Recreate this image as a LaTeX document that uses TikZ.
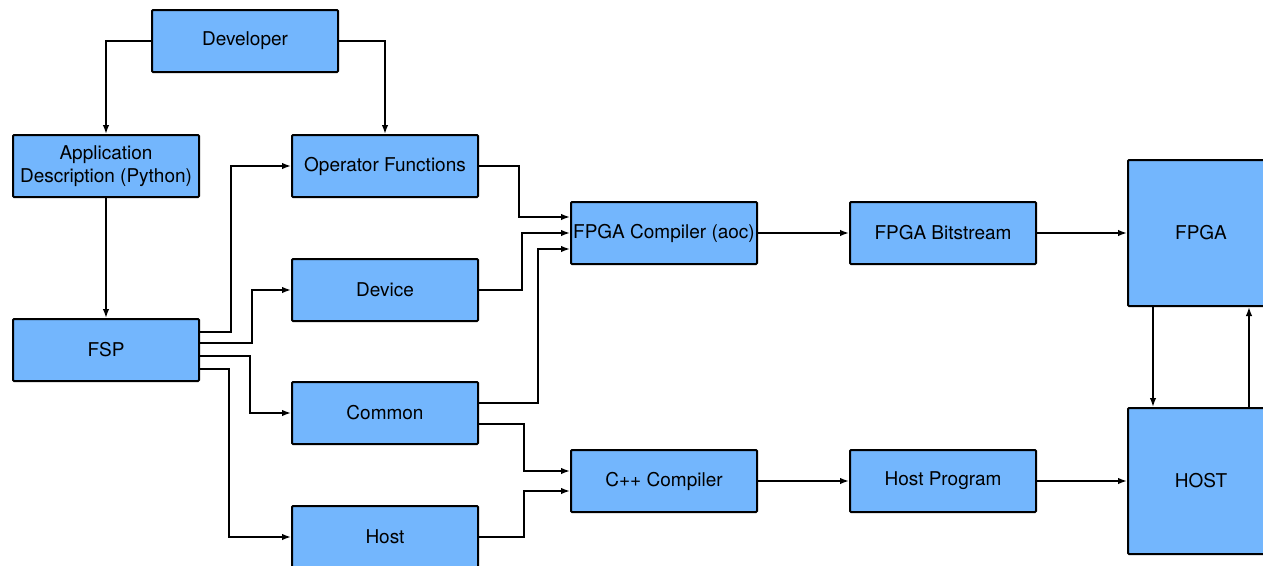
\documentclass[tikz,border=0pt]{standalone}
\usepackage{fontspec}
\setmainfont{TeX Gyre Heros}
\usetikzlibrary{arrows.meta}
\definecolor{boxblue}{HTML}{73B6FD}
\tikzset{
  blk/.style={draw=black, line width=2pt, fill=boxblue, rounded corners=1pt,
    minimum width=186pt, minimum height=62pt, inner sep=0pt, align=center,
    font=\fontsize{19}{23.5}\selectfont},
  bigblk/.style={blk, minimum width=146pt, minimum height=146pt},
  conn/.style={draw=black, line width=1.6pt, -{Latex[length=9pt,width=6.5pt]}}
}
\begin{document}
\begin{tikzpicture}[x=1pt,y=-1pt]
\useasboundingbox (0,0) rectangle (1263,565);
\clip (0,0) rectangle (1263,565);
\fill[white] (0,0) rectangle (1263,565);

% boxes
\node[blk] (dev)  at (245,41)  {Developer};
\node[blk] (app)  at (106,166) {Application\\Description (Python)};
\node[blk] (op)   at (385,166) {Operator Functions};
\node[blk] (dvc)  at (385,290) {Device};
\node[blk] (com)  at (385,413) {Common};
\node[blk] (hst)  at (385,537) {Host};
\node[blk] (fsp)  at (106,350) {FSP};
\node[blk] (fcc)  at (664,233) {FPGA Compiler (aoc)};
\node[blk] (cpp)  at (664,481) {C++ Compiler};
\node[blk] (bit)  at (943,233) {FPGA Bitstream};
\node[blk] (hpg)  at (943,481) {Host Program};
\node[bigblk] (fpga) at (1201,233) {FPGA};
\node[bigblk] (host) at (1201,481) {HOST};

% developer fan-out
\draw[conn] (dev.west) -| (app.north);
\draw[conn] (dev.east) -| (op.north);
\draw[conn] (app.south) -- (fsp.north);

% FSP outputs
\draw[conn] (fsp.east |- 0,332) -| (231,166) -- (op.west);
\draw[conn] (fsp.east |- 0,343) -| (252,290) -- (dvc.west);
\draw[conn] (fsp.east |- 0,356) -| (250,413) -- (com.west);
\draw[conn] (fsp.east |- 0,369) -| (229,537) -- (hst.west);

% into the FPGA compiler
\draw[conn] (op.east) -| (519,217) -- (fcc.west |- 0,217);
\draw[conn] (dvc.east) -| (522,233) -- (fcc.west);
\draw[conn] (com.east |- 0,403) -| (538,249) -- (fcc.west |- 0,249);

% into the C++ compiler
\draw[conn] (com.east |- 0,424) -| (524,471) -- (cpp.west |- 0,471);
\draw[conn] (hst.east) -| (524,491) -- (cpp.west |- 0,491);

% build outputs
\draw[conn] (fcc.east) -- (bit.west);
\draw[conn] (bit.east) -- (fpga.west);
\draw[conn] (cpp.east) -- (hpg.west);
\draw[conn] (hpg.east) -- (host.west);

% device/host link
\draw[conn] (fpga.south -| 1153,0) -- (host.north -| 1153,0);
\draw[conn] (host.north -| 1249,0) -- (fpga.south -| 1249,0);
\end{tikzpicture}
\end{document}
